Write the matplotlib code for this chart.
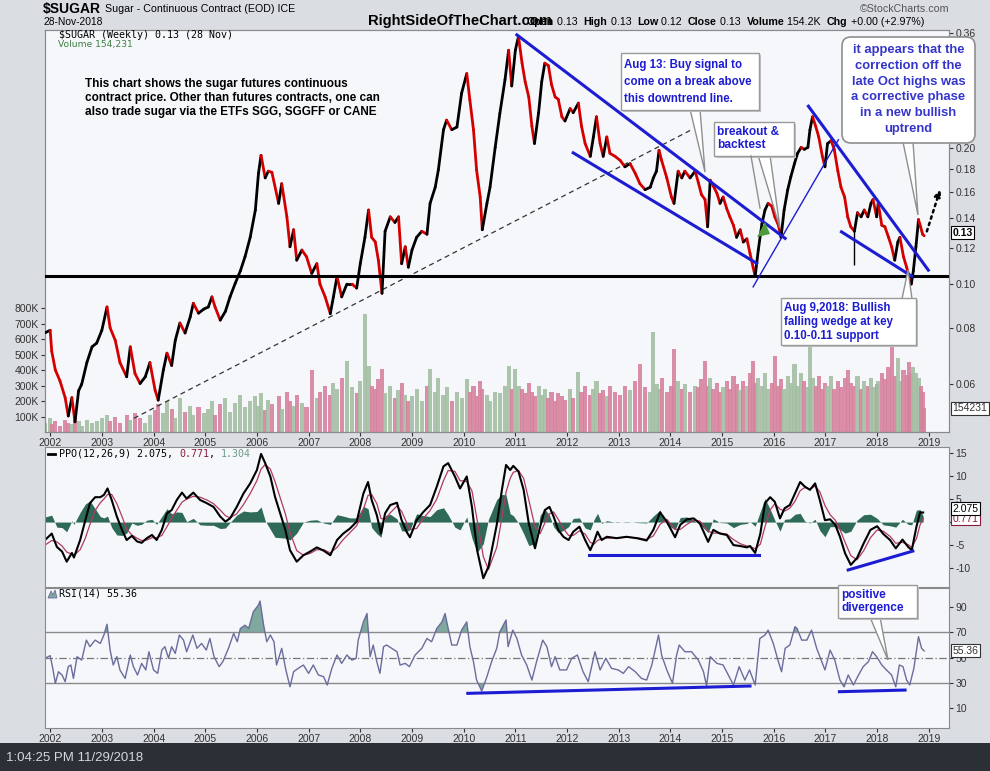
import matplotlib
matplotlib.use("Agg")
import matplotlib.pyplot as plt
import numpy as np
from matplotlib.collections import LineCollection
from matplotlib.patches import Polygon, Rectangle, FancyBboxPatch
from matplotlib.ticker import FixedLocator, NullLocator, FuncFormatter

plt.rcParams['font.family'] = ['Liberation Sans', 'DejaVu Sans']

# ---- $SUGAR weekly close (decimal years) ----
price_dates = [
    2001.90, 2002.00, 2002.03, 2002.10, 2002.19, 2002.29, 2002.35, 2002.42, 2002.48, 2002.55, 2002.61, 2002.71, 2002.81, 2002.90,
    2003.00, 2003.10, 2003.16, 2003.26, 2003.35, 2003.48, 2003.55, 2003.64, 2003.74, 2003.84, 2003.93,
    2004.03, 2004.09, 2004.19, 2004.26, 2004.35, 2004.42, 2004.51, 2004.61, 2004.71, 2004.77, 2004.87, 2004.97,
    2005.06, 2005.13, 2005.19, 2005.29, 2005.39, 2005.48, 2005.58, 2005.68, 2005.77, 2005.87, 2005.97,
    2006.03, 2006.08, 2006.16, 2006.22, 2006.29, 2006.42, 2006.48, 2006.58, 2006.64, 2006.71, 2006.77, 2006.87, 2006.96,
    2007.06, 2007.16, 2007.22, 2007.32, 2007.42, 2007.48, 2007.55, 2007.64, 2007.74, 2007.84, 2007.93,
    2008.00, 2008.09, 2008.16, 2008.22, 2008.29, 2008.35, 2008.42, 2008.48, 2008.58, 2008.67, 2008.74, 2008.80, 2008.87, 2008.93,
    2009.00, 2009.09, 2009.19, 2009.29, 2009.35, 2009.45, 2009.51, 2009.61, 2009.67, 2009.77, 2009.87, 2009.96,
    2010.06, 2010.12, 2010.19, 2010.25, 2010.32, 2010.36, 2010.45, 2010.51, 2010.61, 2010.70, 2010.80, 2010.87, 2010.93,
    2011.00, 2011.06, 2011.13, 2011.19, 2011.26, 2011.32, 2011.37, 2011.45, 2011.51, 2011.57, 2011.64, 2011.70, 2011.77, 2011.83, 2011.90, 2011.96,
    2012.06, 2012.12, 2012.22, 2012.28, 2012.35, 2012.45, 2012.51, 2012.57, 2012.64, 2012.70, 2012.77, 2012.83, 2012.93,
    2013.03, 2013.12, 2013.22, 2013.32, 2013.41, 2013.51, 2013.61, 2013.67, 2013.73, 2013.78, 2013.83, 2013.93,
    2014.02, 2014.07, 2014.15, 2014.22, 2014.28, 2014.38, 2014.48, 2014.54, 2014.60, 2014.67, 2014.72, 2014.77, 2014.83, 2014.90, 2014.96,
    2015.02, 2015.09, 2015.15, 2015.22, 2015.28, 2015.35, 2015.41, 2015.48, 2015.54, 2015.60, 2015.64, 2015.70, 2015.77, 2015.83, 2015.89, 2015.96,
    2016.02, 2016.09, 2016.14, 2016.20, 2016.27, 2016.33, 2016.40, 2016.46, 2016.53, 2016.59, 2016.66, 2016.70, 2016.75, 2016.81, 2016.87, 2016.94, 2016.99,
    2017.04, 2017.11, 2017.17, 2017.24, 2017.30, 2017.37, 2017.43, 2017.49, 2017.56, 2017.62, 2017.69, 2017.75, 2017.82, 2017.88, 2017.92, 2017.99,
    2018.02, 2018.09, 2018.15, 2018.22, 2018.28, 2018.34, 2018.40, 2018.44, 2018.51, 2018.57, 2018.62, 2018.66, 2018.70, 2018.75, 2018.80, 2018.84, 2018.88, 2018.91,
]
price_close = [
    0.078, 0.079, 0.071, 0.0645, 0.061, 0.056, 0.051, 0.056, 0.0495, 0.058, 0.060, 0.067, 0.0726, 0.074,
    0.079, 0.089, 0.080, 0.075, 0.067, 0.0623, 0.0726, 0.0634, 0.0602, 0.0623, 0.067,
    0.0582, 0.0553, 0.0645, 0.0703, 0.066, 0.075, 0.082, 0.0779, 0.0846, 0.0907, 0.0862, 0.088,
    0.089, 0.0937, 0.089, 0.0832, 0.087, 0.0937, 0.1004, 0.107, 0.115, 0.127, 0.146,
    0.176, 0.193, 0.172, 0.178, 0.177, 0.151, 0.167, 0.141, 0.121, 0.132, 0.113, 0.119, 0.115,
    0.1056, 0.111, 0.100, 0.0937, 0.086, 0.0937, 0.104, 0.0937, 0.100, 0.100, 0.098,
    0.111, 0.127, 0.146, 0.127, 0.124, 0.113, 0.0954, 0.131, 0.141, 0.137, 0.141, 0.111, 0.121, 0.109,
    0.119, 0.127, 0.131, 0.129, 0.151, 0.164, 0.179, 0.22, 0.231, 0.22, 0.223, 0.265,
    0.293, 0.256, 0.22, 0.179, 0.156, 0.132, 0.151, 0.164, 0.201, 0.239, 0.284, 0.33, 0.275,
    0.33, 0.354, 0.309, 0.281, 0.26, 0.224, 0.205, 0.24, 0.281, 0.309, 0.305, 0.277, 0.26, 0.257, 0.235, 0.23,
    0.245, 0.24, 0.252, 0.224, 0.205, 0.192, 0.212, 0.235, 0.205, 0.192, 0.212, 0.195, 0.192,
    0.188, 0.182, 0.185, 0.176, 0.167, 0.162, 0.164, 0.172, 0.178, 0.198, 0.188, 0.172,
    0.156, 0.151, 0.178, 0.172, 0.178, 0.172, 0.178, 0.168, 0.158, 0.154, 0.134, 0.170, 0.165, 0.159, 0.151,
    0.156, 0.147, 0.141, 0.135, 0.127, 0.132, 0.124, 0.126, 0.117, 0.109, 0.104, 0.119, 0.136, 0.146, 0.151, 0.149,
    0.141, 0.135, 0.127, 0.146, 0.162, 0.173, 0.185, 0.195, 0.201, 0.199, 0.201, 0.22, 0.235, 0.224, 0.212, 0.192, 0.182,
    0.205, 0.208, 0.199, 0.178, 0.164, 0.156, 0.141, 0.134, 0.131, 0.144, 0.141, 0.146, 0.141, 0.151, 0.154, 0.141,
    0.151, 0.135, 0.134, 0.127, 0.121, 0.113, 0.124, 0.127, 0.115, 0.109, 0.104, 0.100, 0.107, 0.121, 0.139, 0.134, 0.129, 0.128,
]
# volume in thousands, same sample dates as price
volume_k = [
    60, 90, 50, 70, 40, 80, 60, 50, 90, 70, 40, 80, 60, 70,
    90, 110, 70, 100, 60, 110, 80, 120, 90, 60, 110,
    140, 180, 120, 200, 150, 90, 220, 130, 170, 110, 160, 120,
    150, 200, 110, 180, 220, 130, 190, 240, 160, 200, 230,
    170, 250, 140, 210, 180, 230, 150, 260, 200, 170, 240, 190, 160,
    400, 220, 260, 300, 240, 320, 280, 350, 460, 290, 250,
    330, 760, 430, 300, 280, 340, 410, 250, 300, 220, 270, 320, 240, 200,
    230, 280, 200, 300, 410, 260, 350, 240, 290, 200, 260, 220,
    340, 260, 300, 230, 330, 280, 240, 200, 260, 250, 300, 430, 280,
    410, 300, 280, 250, 320, 260, 230, 300, 240, 280, 220, 260, 200, 250, 230, 210,
    280, 220, 390, 260, 300, 240, 280, 330, 250, 270, 230, 300, 260,
    240, 300, 270, 330, 440, 290, 260, 650, 310, 280, 350, 260,
    300, 540, 330, 280, 310, 260, 300, 290, 340, 460, 300, 350, 280, 320, 260,
    290, 330, 280, 360, 310, 270, 330, 300, 380, 460, 320, 350, 300, 380, 280, 320,
    490, 300, 340, 280, 360, 320, 440, 300, 380, 330, 290, 550, 350, 300, 360, 280, 320,
    300, 360, 280, 330, 290, 350, 400, 320, 300, 360, 280, 330, 300, 350, 290, 310,
    330, 380, 340, 420, 550, 360, 480, 330, 400, 370, 450, 380, 420, 380, 350, 300, 260, 154,
]
wick_date, wick_low, wick_high = 2017.56, 0.110, 0.131

# ---- PPO(12,26,9) ----
ppo_dates = [
    2001.90, 2002.03, 2002.13, 2002.23, 2002.32, 2002.42, 2002.46, 2002.58, 2002.68, 2002.77,
    2002.87, 2002.97, 2003.04, 2003.11, 2003.19, 2003.29, 2003.39, 2003.48, 2003.58, 2003.68,
    2003.77, 2003.87, 2003.97, 2004.06, 2004.16, 2004.26, 2004.35, 2004.45, 2004.55, 2004.64,
    2004.77, 2004.90, 2005.03, 2005.16, 2005.29, 2005.39, 2005.48, 2005.61, 2005.74, 2005.87,
    2006.00, 2006.08, 2006.16, 2006.26, 2006.35, 2006.45, 2006.55, 2006.64, 2006.77, 2006.90,
    2007.03, 2007.16, 2007.29, 2007.42, 2007.55, 2007.67, 2007.80, 2007.93, 2008.06, 2008.15,
    2008.22, 2008.32, 2008.40, 2008.48, 2008.58, 2008.71, 2008.80, 2008.90, 2008.96, 2009.09,
    2009.22, 2009.35, 2009.48, 2009.61, 2009.70, 2009.83, 2009.93, 2010.06, 2010.16, 2010.26,
    2010.38, 2010.48, 2010.64, 2010.74, 2010.82, 2010.90, 2010.96, 2011.06, 2011.16, 2011.26,
    2011.38, 2011.48, 2011.57, 2011.66, 2011.74, 2011.83, 2011.93, 2012.03, 2012.12, 2012.24,
    2012.35, 2012.45, 2012.52, 2012.59, 2012.67, 2012.77, 2012.96, 2013.15, 2013.35, 2013.54,
    2013.67, 2013.80, 2013.93, 2014.09, 2014.19, 2014.32, 2014.45, 2014.57, 2014.73, 2014.83,
    2014.96, 2015.09, 2015.22, 2015.35, 2015.48, 2015.54, 2015.64, 2015.74, 2015.83, 2015.93,
    2016.02, 2016.12, 2016.21, 2016.31, 2016.41, 2016.51, 2016.60, 2016.70, 2016.80, 2016.89,
    2016.99, 2017.09, 2017.19, 2017.28, 2017.38, 2017.49, 2017.61, 2017.74, 2017.87, 2018.00,
    2018.12, 2018.25, 2018.36, 2018.49, 2018.60, 2018.67, 2018.76, 2018.83, 2018.89,
]
ppo_line = [
    -3.9, -2.5, -5.4, -6.4, -8.6, -6.7, -7.7, -3.9, 0.4, 4.1,
    5.4, 5.4, 5.9, 7.3, 4.8, 1.2, -1.7, -3.9, -3.0, -4.2,
    -4.5, -3.5, -2.8, -3.9, -1.7, 1.9, 2.6, 4.8, 6.4, 5.1,
    6.4, 4.8, 4.1, 3.3, 1.2, 0.1, 0.8, 3.3, 6.2, 8.4,
    11.3, 14.8, 12.8, 9.9, 5.5, 1.9, -1.7, -6.1, -8.6, -7.2,
    -6.4, -5.5, -6.2, -7.2, -3.9, -2.5, -1.4, 0.1, 6.2, 8.7,
    4.8, 1.5, -2.5, 1.9, 3.7, 4.2, 0.4, -2.2, -3.3, 0.4,
    2.2, 3.7, 7.7, 12.1, 12.8, 9.9, 7.3, 9.9, 3.3, -6.1,
    -12.2, -9.7, -0.6, 7.0, 12.4, 11.3, 12.2, 11.0, 7.0, -0.3,
    -5.7, -1.0, 2.6, 3.3, 1.2, -1.7, -3.2, -3.9, -2.1, -1.0,
    -3.9, -6.1, -4.3, -2.1, -3.9, -3.2, -3.5, -3.2, -3.5, -4.0,
    -1.7, 2.1, 0.1, -3.3, -0.6, 0.6, 0.8, -0.3, -4.3, -1.7,
    -2.5, -2.8, -5.0, -5.2, -5.5, -5.2, -6.7, -2.5, 4.1, 5.4,
    4.4, 0.8, 3.0, 3.7, 6.2, 8.7, 7.7, 7.0, 8.4, 4.8,
    0.4, 0.6, -0.6, -3.2, -6.8, -9.3, -7.8, -4.6, -1.7, -0.9,
    -2.6, -3.9, -5.7, -3.8, -5.4, -6.1, -1.0, 2.1, 2.075,
]
ppo_signal = [
    -5.0, -4.0, -4.3, -5.2, -6.5, -7.0, -7.2, -6.0, -3.5, -0.5,
    2.5, 4.2, 5.0, 6.0, 6.0, 4.0, 1.2, -1.5, -2.8, -3.5,
    -4.0, -3.9, -3.4, -3.4, -2.9, -1.0, 0.8, 2.6, 4.3, 5.0,
    5.6, 5.4, 4.8, 4.0, 2.6, 1.4, 0.9, 1.8, 3.8, 6.2,
    9.0, 11.5, 12.5, 11.5, 8.8, 5.3, 1.8, -2.2, -6.2, -7.2,
    -6.8, -6.0, -6.0, -6.7, -5.5, -3.8, -2.3, -0.8, 2.8, 5.8,
    6.0, 4.0, 0.8, 0.5, 2.0, 3.5, 2.3, -0.2, -1.6, -1.4,
    0.8, 2.5, 5.0, 9.0, 11.2, 11.0, 9.0, 8.8, 6.8, 0.5,
    -7.5, -10.3, -5.5, 1.0, 6.5, 9.5, 10.8, 11.2, 9.5, 4.8,
    -1.0, -2.5, -0.2, 1.8, 2.2, 0.6, -1.4, -2.9, -2.9, -1.9,
    -2.6, -4.4, -4.8, -4.0, -3.6, -3.5, -3.4, -3.3, -3.4, -3.8,
    -3.0, -0.5, 0.6, -1.6, -1.6, -0.5, 0.4, 0.2, -2.0, -2.4,
    -2.4, -2.6, -3.8, -4.7, -5.2, -5.3, -5.8, -4.8, -1.0, 2.6,
    4.0, 2.8, 2.4, 3.0, 4.5, 6.8, 7.5, 7.2, 7.8, 6.6,
    3.6, 1.6, 0.4, -1.6, -4.4, -7.3, -8.2, -6.2, -3.4, -1.7,
    -2.0, -3.1, -4.6, -4.4, -4.9, -5.5, -3.6, -0.6, 0.771,
]

# ---- RSI(14) ----
rsi_dates = [
    2001.90, 2002.00, 2002.05, 2002.10, 2002.16, 2002.23, 2002.29, 2002.35, 2002.40, 2002.45,
    2002.52, 2002.61, 2002.70, 2002.77, 2002.87, 2002.97, 2003.04, 2003.10, 2003.16, 2003.22,
    2003.29, 2003.35, 2003.45, 2003.55, 2003.61, 2003.69, 2003.77, 2003.85, 2003.91, 2004.00,
    2004.08, 2004.16, 2004.22, 2004.29, 2004.35, 2004.42, 2004.50, 2004.58, 2004.64, 2004.76,
    2004.84, 2004.93, 2005.02, 2005.09, 2005.17, 2005.27, 2005.34, 2005.45, 2005.55, 2005.62,
    2005.68, 2005.77, 2005.84, 2005.93, 2006.03, 2006.06, 2006.13, 2006.19, 2006.26, 2006.33,
    2006.38, 2006.48, 2006.56, 2006.64, 2006.71, 2006.80, 2006.90, 2007.00, 2007.09, 2007.19,
    2007.29, 2007.36, 2007.45, 2007.55, 2007.64, 2007.74, 2007.84, 2007.92, 2007.96, 2008.06,
    2008.13, 2008.19, 2008.25, 2008.32, 2008.38, 2008.45, 2008.51, 2008.61, 2008.71, 2008.77,
    2008.87, 2008.95, 2009.06, 2009.19, 2009.29, 2009.38, 2009.48, 2009.58, 2009.64, 2009.70,
    2009.77, 2009.87, 2009.96, 2010.06, 2010.12, 2010.19, 2010.25, 2010.35, 2010.45, 2010.54,
    2010.64, 2010.70, 2010.82, 2010.86, 2010.95, 2011.03, 2011.12, 2011.22, 2011.32, 2011.41,
    2011.53, 2011.61, 2011.70, 2011.77, 2011.86, 2011.99, 2012.09, 2012.20, 2012.31, 2012.41,
    2012.54, 2012.64, 2012.75, 2012.86, 2012.99, 2013.09, 2013.19, 2013.32, 2013.44, 2013.54,
    2013.64, 2013.72, 2013.77, 2013.83, 2013.93, 2014.04, 2014.12, 2014.17, 2014.28, 2014.41,
    2014.54, 2014.64, 2014.70, 2014.77, 2014.90, 2015.02, 2015.12, 2015.22, 2015.33, 2015.44,
    2015.53, 2015.64, 2015.73, 2015.83, 2015.89, 2015.99, 2016.09, 2016.15, 2016.22, 2016.31,
    2016.41, 2016.45, 2016.54, 2016.64, 2016.73, 2016.83, 2016.93, 2016.99, 2017.09, 2017.18,
    2017.28, 2017.36, 2017.44, 2017.54, 2017.64, 2017.73, 2017.83, 2017.91, 2017.99, 2018.09,
    2018.18, 2018.28, 2018.36, 2018.43, 2018.50, 2018.57, 2018.63, 2018.71, 2018.80, 2018.86,
    2018.91,
]
rsi_values = [
    49.5, 51.6, 41.6, 29.7, 38.9, 36.3, 31.0, 42.9, 44.2, 33.6,
    50.8, 48.1, 63.9, 58.7, 63.9, 61.3, 67.9, 76.4, 56.0, 44.2,
    50.8, 40.3, 33.6, 52.1, 42.9, 36.3, 45.5, 40.3, 54.7, 40.3,
    37.6, 56.0, 58.7, 49.5, 58.7, 53.4, 67.9, 63.9, 54.7, 67.9,
    57.4, 61.3, 56.0, 65.2, 50.8, 42.9, 46.8, 57.4, 69.2, 62.6,
    73.1, 75.7, 73.1, 86.3, 91.6, 94.8, 75.7, 62.6, 67.9, 62.6,
    44.2, 57.4, 40.3, 27.0, 38.9, 41.6, 44.2, 37.6, 44.2, 36.3,
    35.0, 28.4, 41.6, 52.1, 45.5, 52.1, 48.1, 49.5, 63.9, 78.3,
    84.9, 50.8, 60.0, 46.8, 37.6, 58.7, 60.0, 57.4, 54.7, 44.2,
    45.5, 42.9, 52.1, 57.4, 65.2, 62.6, 73.1, 78.3, 84.9, 73.1,
    60.0, 60.0, 71.8, 78.3, 58.7, 46.8, 32.3, 23.6, 35.0, 46.8,
    57.4, 70.5, 79.8, 58.7, 71.8, 65.2, 52.1, 44.2, 32.3, 46.8,
    63.9, 58.7, 42.9, 50.8, 40.3, 40.3, 49.5, 52.1, 38.9, 31.0,
    54.7, 40.3, 49.5, 41.6, 40.3, 37.6, 42.9, 38.9, 33.6, 32.3,
    44.2, 58.7, 67.9, 52.1, 40.3, 29.7, 52.1, 60.0, 54.7, 54.7,
    48.1, 38.9, 27.6, 50.8, 45.5, 44.2, 36.3, 28.4, 42.9, 32.3,
    40.3, 28.4, 65.2, 67.9, 71.8, 61.3, 46.8, 38.9, 57.4, 60.0,
    74.5, 73.1, 63.9, 63.9, 71.8, 57.4, 46.8, 40.3, 56.0, 48.1,
    32.3, 27.0, 36.3, 28.4, 36.3, 42.9, 46.8, 54.7, 50.8, 44.2,
    40.3, 36.3, 27.0, 44.2, 42.9, 32.3, 28.4, 41.6, 66.6, 57.4,
    55.36,
]

year_ticks = list(range(2002, 2020))
price_ticks = [0.06, 0.08, 0.10, 0.12, 0.14, 0.16, 0.18, 0.20, 0.36]
volume_ticks = [100, 200, 300, 400, 500, 600, 700, 800]
ppo_ticks = [15, 10, 5, 0, -5, -10]
rsi_ticks = [90, 70, 50, 30, 10]

# hand-drawn lines on the original chart
support_level = 0.104
dashed_trend = ([2003.62, 2014.41], [0.0504, 0.220])
blue_price_lines = [
    ([2011.03, 2016.22], [0.357, 0.1263], 2.2),
    ([2012.12, 2015.67], [0.1955, 0.1112], 2.2),
    ([2015.60, 2017.25], [0.0986, 0.209], 1.0),
    ([2016.67, 2018.99], [0.248, 0.1074], 2.2),
    ([2017.31, 2018.67], [0.1306, 0.1041], 2.2),
]
blue_ppo_lines = [([2012.43, 2015.72], [-7.1, -7.1]), ([2017.44, 2018.69], [-10.4, -6.3])]
blue_rsi_lines = [([2010.08, 2015.54], [21.8, 27.6]), ([2017.27, 2018.54], [23.1, 24.4])]

assert len(price_dates) == len(price_close) == len(volume_k)
assert len(ppo_dates) == len(ppo_line) == len(ppo_signal)
assert len(rsi_dates) == len(rsi_values)

W, H = 990, 771
fig = plt.figure(figsize=(W / 100, H / 100), dpi=100)
fig.patch.set_facecolor('#dadde2')

PANEL_BG = '#f5f7fb'
SPINE = '#8a8a8a'
TXT = '#333333'
BLUE = '#1c1cd2'
XMIN, XMAX = 2001.90, 2019.39


def panel(top, bottom):
    a = fig.add_axes([45 / W, 1 - bottom / H, 904 / W, (bottom - top) / H])
    a.set_facecolor(PANEL_BG)
    a.set_xlim(XMIN, XMAX)
    for s in a.spines.values():
        s.set_color(SPINE)
    a.tick_params(labelsize=7.5, colors=TXT, length=3, pad=1.5, width=0.8)
    return a


# ---- main panel: volume behind, price on twin ----
ax_vol = panel(30, 432)
ax = ax_vol.twinx()
ax.set_xlim(XMIN, XMAX)
for s in ax.spines.values():
    s.set_color(SPINE)

d = np.array(price_dates)
p = np.array(price_close)
up = np.diff(p) >= 0
bar_up = np.concatenate([[True], up])

ax_vol.bar(d, volume_k, width=0.08, linewidth=0, alpha=0.9,
           color=['#a3bfa3' if u else '#d6829d' for u in bar_up])
ax_vol.set_ylim(0, 2600)
ax_vol.yaxis.set_major_locator(FixedLocator(volume_ticks))
ax_vol.yaxis.set_major_formatter(FuncFormatter(lambda v, _: f"{int(v)}K"))
ax_vol.set_xticks(year_ticks)
ax_vol.set_xticklabels([str(y) for y in year_ticks])

segs = np.stack([np.column_stack([d[:-1], p[:-1]]), np.column_stack([d[1:], p[1:]])], axis=1)
lc = LineCollection(segs, colors=['black' if u else '#d40000' for u in up],
                    linewidths=2.0, capstyle='round', zorder=3)
ax.add_collection(lc)
ax.vlines(wick_date, wick_low, wick_high, color='black', lw=1, zorder=3)

ax.set_yscale('log')
ax.set_ylim(0.047, 0.366)
ax.yaxis.set_major_locator(FixedLocator(price_ticks))
ax.yaxis.set_minor_locator(NullLocator())
ax.yaxis.set_major_formatter(FuncFormatter(lambda v, _: f"{v:.2f}"))
ax.tick_params(labelsize=7.5, colors=TXT, length=3, pad=1.5, width=0.8)

ax.axhline(support_level, color='black', lw=2.2, zorder=4)
ax.plot(*dashed_trend, color='#333333', lw=0.9, ls=(0, (4, 3)), zorder=2)
for xs, ys, lw in blue_price_lines:
    ax.plot(xs, ys, color=BLUE, lw=lw, zorder=5)

# right-edge value tags
tag = dict(boxstyle='square,pad=0.15', fc='white', lw=0.8)
ax.text(1.004, 0.13, '0.13', transform=ax.get_yaxis_transform(), fontsize=7.5, fontweight='bold',
        va='center', ha='left', bbox=dict(tag, ec='black'), clip_on=False, zorder=6)
ax_vol.text(1.004, 154.231, '154231', transform=ax_vol.get_yaxis_transform(), fontsize=7.5,
            va='center', ha='left', color=TXT, bbox=dict(tag, ec='#333333'), clip_on=False)

# ---- PPO panel ----
ax_ppo = panel(447, 587)
pdts = np.array(ppo_dates)
hist = np.array(ppo_line) - np.array(ppo_signal)
ax_ppo.fill_between(pdts, 0, hist, color='#2f6a58', lw=0)
ax_ppo.plot(pdts, ppo_signal, color='#b23a60', lw=0.9)
ax_ppo.plot(pdts, ppo_line, color='black', lw=1.5)
for xs, ys in blue_ppo_lines:
    ax_ppo.plot(xs, ys, color=BLUE, lw=2.2)
ax_ppo.set_ylim(-14.1, 16.3)
ax_ppo.yaxis.tick_right()
ax_ppo.set_yticks(ppo_ticks)
ax_ppo.set_yticklabels([str(v) for v in ppo_ticks])
ax_ppo.set_xticks([])
ax_ppo.text(1.004, 0.771, '0.771', transform=ax_ppo.get_yaxis_transform(), fontsize=7.5,
            color='#8b1a3a', va='center', ha='left', bbox=dict(tag, ec='#8b1a3a'), clip_on=False)
ax_ppo.text(1.004, 2.9, '2.075', transform=ax_ppo.get_yaxis_transform(), fontsize=7.5,
            color='black', va='center', ha='left', bbox=dict(tag, ec='black'), clip_on=False)

# ---- RSI panel ----
ax_rsi = panel(588, 728)
rd = np.array(rsi_dates)
rv = np.array(rsi_values)
for lvl in (70, 30):
    ax_rsi.axhline(lvl, color='#8a8a8a', lw=1)
ax_rsi.axhline(50, color='#777777', lw=0.9, ls=(0, (6, 2, 1, 2)))
ax_rsi.fill_between(rd, 70, rv, where=rv > 70, interpolate=True, color='#7fa89e', lw=0)
ax_rsi.fill_between(rd, 30, rv, where=rv < 30, interpolate=True, color='#7fa89e', lw=0)
ax_rsi.plot(rd, rv, color='#6a6c9c', lw=1)
for xs, ys in blue_rsi_lines:
    ax_rsi.plot(xs, ys, color=BLUE, lw=2.2)
ax_rsi.set_ylim(-5.6, 105.1)
ax_rsi.yaxis.tick_right()
ax_rsi.set_yticks(rsi_ticks)
ax_rsi.set_yticklabels([str(v) for v in rsi_ticks])
ax_rsi.set_xticks(year_ticks)
ax_rsi.set_xticklabels([str(y) for y in year_ticks])
ax_rsi.text(1.004, 55.36, '55.36', transform=ax_rsi.get_yaxis_transform(), fontsize=7.5,
            color=TXT, va='center', ha='left', bbox=dict(tag, ec='#333333'), clip_on=False)

# ---- overlay for header, labels and callouts (pixel coordinates) ----
ov = fig.add_axes([0, 0, 1, 1], zorder=20)
ov.set_xlim(0, W)
ov.set_ylim(H, 0)
ov.axis('off')
ov.patch.set_alpha(0)
renderer = fig.canvas.get_renderer()


def chain(x, y, pieces, size, family=None, gap=0.0):
    for s, color, weight in pieces:
        t = ov.text(x, y, s, color=color, fontsize=size, fontweight=weight, va='center', ha='left',
                    family=family)
        x += t.get_window_extent(renderer).width + gap
    return x


ov.add_patch(Rectangle((0, 743), W, 28, fc='#2b2f36', ec='none'))
ov.text(6, 758, '1:04:25 PM 11/29/2018', color='#d4d8de', fontsize=9.5, va='center', ha='left')

title_end = chain(43, 9, [('$SUGAR', 'black', 'bold')], 10.0)
ov.text(title_end + 4, 9.5, 'Sugar - Continuous Contract (EOD) ICE', fontsize=7.7, va='center', ha='left')
ov.text(44, 22, '28-Nov-2018', fontsize=7.4, va='center', ha='left')
ov.text(860, 9, '\u00a9StockCharts.com', fontsize=7.7, color='#555555', va='center', ha='left')
chain(527, 22, [('Open', 'black', 'bold'), (' 0.13  ', 'black', 'normal'),
                ('High', 'black', 'bold'), (' 0.13  ', 'black', 'normal'),
                ('Low', 'black', 'bold'), (' 0.12  ', 'black', 'normal'),
                ('Close', 'black', 'bold'), (' 0.13  ', 'black', 'normal'),
                ('Volume', 'black', 'bold'), (' 154.2K  ', 'black', 'normal'),
                ('Chg', 'black', 'bold'), (' +0.00 (+2.97%)', 'black', 'normal')], 7.7)
ov.text(368, 21, 'RightSideOfTheChart.com', fontsize=10.6, fontweight='bold', va='center', ha='left')

MONO = ['DejaVu Sans Mono']
ov.text(59, 35, '$SUGAR (Weekly) 0.13 (28 Nov)', fontsize=7.2, family=MONO, va='center', ha='left')
ov.text(58, 45, 'Volume 154,231', fontsize=6.6, family=['DejaVu Sans'], color='#3f7f3f',
        va='center', ha='left')
ov.plot([48, 55], [454, 454], color='black', lw=2)
chain(59, 454, [('PPO(12,26,9) 2.075, ', 'black', 'normal'), ('0.771', '#8b1a3a', 'normal'),
                (', ', 'black', 'normal'), ('1.304', '#6a9a8a', 'normal')], 7.2, family=MONO)
ov.add_patch(Polygon([(48, 598), (51, 591), (53, 595), (55, 590), (57, 598)], fc='#7fa89e', ec='#6a6c9c', lw=0.6))
ov.text(59, 594, 'RSI(14) 55.36', fontsize=7.2, family=MONO, va='center', ha='left')

# plain note
ov.text(85, 78, 'This chart shows the sugar futures continuous\n'
                'contract price. Other than futures contracts, one can\n'
                'also trade sugar via the ETFs SGG, SGGFF or CANE',
        fontsize=8.5, fontweight='bold', va='top', ha='left', linespacing=1.25)


def callout(x0, y0, x1, y1, text, size, tail, color=BLUE, rounded=False, center=False,
            spacing=1.2, inset=4):
    if tail is not None:
        ov.add_patch(Polygon(tail, closed=True, fc='white', ec='#8f8f8f', lw=1))
    if rounded:
        ov.add_patch(FancyBboxPatch((x0, y0), x1 - x0, y1 - y0,
                                    boxstyle='round,pad=0,rounding_size=9',
                                    fc='white', ec='#8f8f8f', lw=1.2, mutation_aspect=1))
    else:
        ov.add_patch(Rectangle((x0 + 2, y0 + 2), x1 - x0, y1 - y0, fc='#c4c4c4', ec='none'))
        ov.add_patch(Rectangle((x0, y0), x1 - x0, y1 - y0, fc='white', ec='#9a9a9a', lw=1))
    if center:
        ov.text((x0 + x1) / 2, y0 + inset, text, fontsize=size, fontweight='bold', color=color,
                va='top', ha='center', multialignment='center', linespacing=spacing)
    else:
        ov.text(x0 + 3, y0 + inset, text, fontsize=size, fontweight='bold', color=color,
                va='top', ha='left', linespacing=spacing)


callout(621, 53, 759, 110, 'Aug 13: Buy signal to\ncome on a break above\nthis downtrend line.', 8.3,
        [(690, 109), (700, 109), (705, 172)], spacing=1.55, inset=6)
ov.plot([751, 760], [156, 208], color='#8f8f8f', lw=1)
callout(714, 122, 794, 156, 'breakout &\nbacktest', 8.6,
        [(758, 155), (770, 155), (780, 228)], spacing=1.15)
callout(842, 37, 975, 143, 'it appears that the\ncorrection off the\nlate Oct highs was\n'
        'a corrective phase\nin a new bullish\nuptrend', 9.4,
        [(903, 142), (913, 142), (918, 215)], color='#3535cc', rounded=True, center=True,
        spacing=1.42, inset=7)
callout(781, 298, 916, 345, 'Aug 9,2018: Bullish\nfalling wedge at key\n0.10-0.11 support', 8.3,
        [(902, 299), (912, 299), (908, 270)], spacing=1.25)
callout(838, 585, 917, 618, 'positive\ndivergence', 8.5,
        [(870, 617), (880, 617), (888, 660)], spacing=1.15)

# green breakout marker and projected move arrow
ov.add_patch(Polygon([(757, 237), (770, 234), (765, 222)], fc='#4e9a3c', ec='none'))
ov.annotate('', xy=(941, 187), xytext=(926, 234),
            arrowprops=dict(arrowstyle='-|>', ls=':', lw=1.8, color='black', mutation_scale=10))

fig.savefig('out.png', dpi=100, facecolor=fig.get_facecolor())
